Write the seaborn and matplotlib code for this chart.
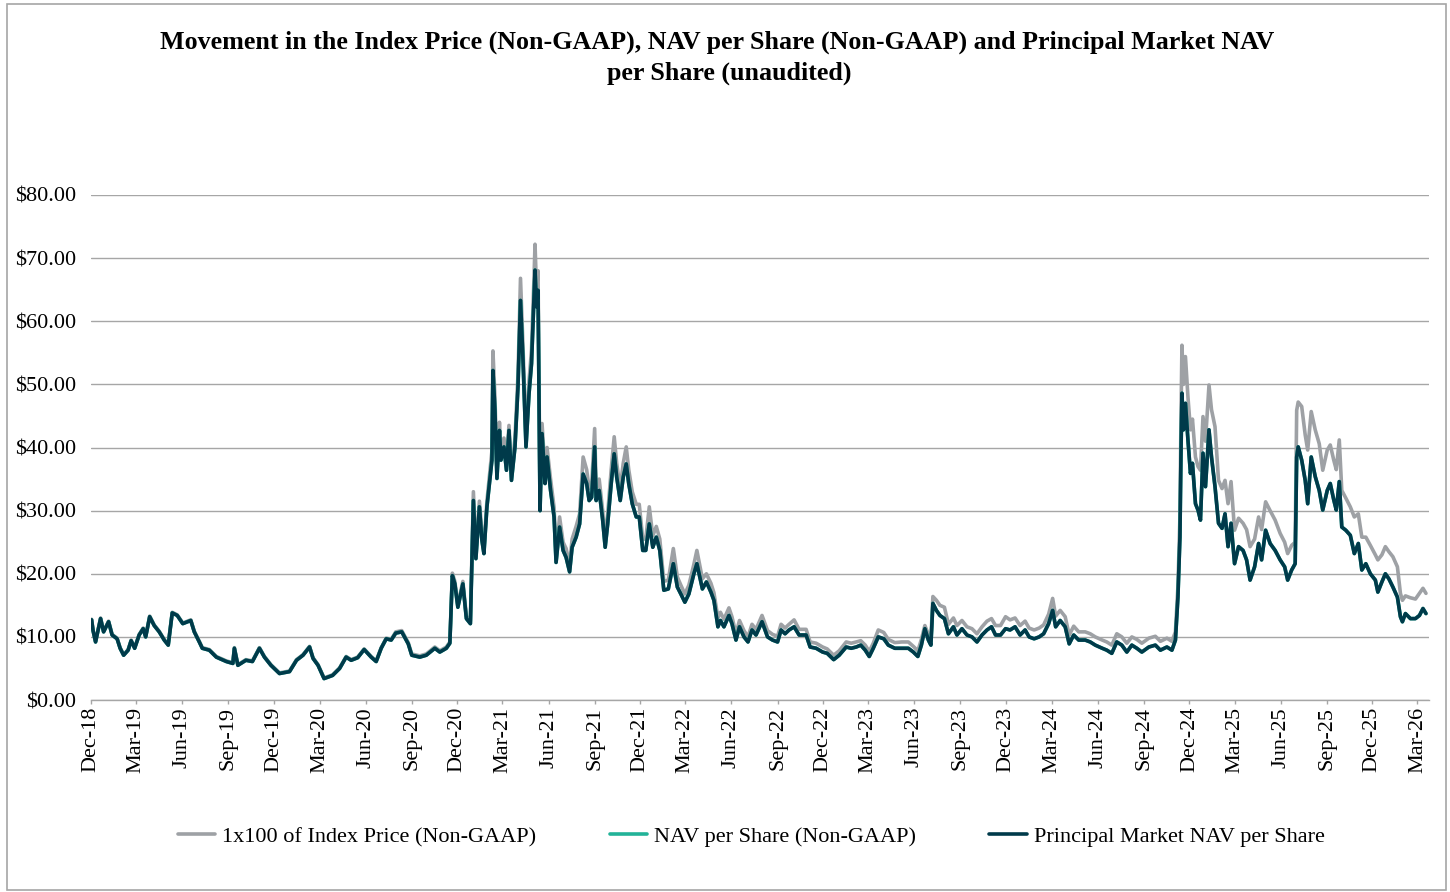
import pandas as pd
import matplotlib
matplotlib.use("Agg")
import matplotlib.pyplot as plt
import matplotlib.dates as mdates
from matplotlib.patches import Rectangle
from matplotlib.ticker import MultipleLocator, FuncFormatter
import seaborn as sns

# values
dates = [
    "2018-12-02", "2018-12-05", "2018-12-10", "2018-12-20", "2018-12-26",
    "2019-01-05", "2019-01-12", "2019-01-22", "2019-01-28", "2019-02-04",
    "2019-02-13", "2019-02-19", "2019-02-26", "2019-03-07", "2019-03-15",
    "2019-03-20", "2019-03-28", "2019-04-06", "2019-04-16", "2019-04-26",
    "2019-05-04", "2019-05-12", "2019-05-22", "2019-06-02", "2019-06-18",
    "2019-06-25", "2019-07-05", "2019-07-11", "2019-07-25", "2019-08-08",
    "2019-08-28", "2019-09-10", "2019-09-13", "2019-09-20", "2019-10-06",
    "2019-10-19", "2019-11-02", "2019-11-12", "2019-11-25", "2019-12-12",
    "2020-01-01", "2020-01-15", "2020-01-28", "2020-02-10", "2020-02-17",
    "2020-02-27", "2020-03-10", "2020-03-27", "2020-04-10", "2020-04-23",
    "2020-05-03", "2020-05-16", "2020-05-29", "2020-06-12", "2020-06-22",
    "2020-07-02", "2020-07-12", "2020-07-22", "2020-07-31", "2020-08-12",
    "2020-08-25", "2020-09-01", "2020-09-17", "2020-09-30", "2020-10-17",
    "2020-10-27", "2020-11-09", "2020-11-16", "2020-11-21", "2020-11-26",
    "2020-12-02", "2020-12-12", "2020-12-19", "2020-12-27",
    "2021-01-02", "2021-01-07", "2021-01-14", "2021-01-19", "2021-01-23",
    "2021-01-29", "2021-02-03", "2021-02-08", "2021-02-10", "2021-02-14",
    "2021-02-18", "2021-02-23", "2021-02-26", "2021-03-04", "2021-03-09",
    "2021-03-14", "2021-03-19", "2021-03-26", "2021-04-01", "2021-04-06",
    "2021-04-11", "2021-04-17", "2021-04-23", "2021-04-28", "2021-05-03",
    "2021-05-05", "2021-05-08", "2021-05-11", "2021-05-15", "2021-05-19",
    "2021-05-25", "2021-05-29", "2021-06-05", "2021-06-12", "2021-06-16",
    "2021-06-23", "2021-06-30", "2021-07-06", "2021-07-13", "2021-07-18",
    "2021-07-26", "2021-08-02", "2021-08-09", "2021-08-16", "2021-08-21",
    "2021-08-26", "2021-09-01", "2021-09-04", "2021-09-10", "2021-09-17",
    "2021-09-22", "2021-09-27", "2021-10-04", "2021-10-10", "2021-10-15",
    "2021-10-22", "2021-10-28", "2021-11-03", "2021-11-08", "2021-11-15",
    "2021-11-23", "2021-11-29", "2021-12-06", "2021-12-12", "2021-12-19",
    "2021-12-26", "2022-01-02", "2022-01-09", "2022-01-17", "2022-01-26",
    "2022-02-05", "2022-02-13", "2022-02-20", "2022-02-28", "2022-03-08",
    "2022-03-18", "2022-03-24", "2022-04-04", "2022-04-12", "2022-04-21",
    "2022-04-27", "2022-05-05", "2022-05-10", "2022-05-17", "2022-05-27",
    "2022-06-02", "2022-06-10", "2022-06-17", "2022-06-26", "2022-07-04",
    "2022-07-12", "2022-07-20", "2022-08-01", "2022-08-12", "2022-08-22",
    "2022-09-01", "2022-09-08", "2022-09-16", "2022-09-24", "2022-10-04",
    "2022-10-14", "2022-10-28", "2022-11-05", "2022-11-17", "2022-11-30",
    "2022-12-09", "2022-12-22", "2023-01-02", "2023-01-16", "2023-01-26",
    "2023-02-05", "2023-02-14", "2023-02-23", "2023-03-03", "2023-03-11",
    "2023-03-21", "2023-04-01", "2023-04-10", "2023-04-23", "2023-05-07",
    "2023-05-20", "2023-05-30", "2023-06-08", "2023-06-15", "2023-06-22",
    "2023-06-29", "2023-07-04", "2023-07-08", "2023-07-15", "2023-07-22",
    "2023-07-31", "2023-08-08", "2023-08-18", "2023-08-25", "2023-09-04",
    "2023-09-14", "2023-09-24", "2023-10-04", "2023-10-14", "2023-10-24",
    "2023-11-02", "2023-11-10", "2023-11-20", "2023-11-30", "2023-12-09",
    "2023-12-19", "2023-12-29", "2024-01-08", "2024-01-16", "2024-01-26",
    "2024-02-05", "2024-02-14", "2024-02-24", "2024-03-03", "2024-03-09",
    "2024-03-18", "2024-03-28", "2024-04-05", "2024-04-14", "2024-04-24",
    "2024-05-07", "2024-05-17", "2024-05-27", "2024-06-10", "2024-06-19",
    "2024-06-29", "2024-07-09", "2024-07-19", "2024-07-29", "2024-08-08",
    "2024-08-18", "2024-08-28", "2024-09-11", "2024-09-24", "2024-10-04",
    "2024-10-17", "2024-10-27", "2024-11-03", "2024-11-08", "2024-11-12",
    "2024-11-14", "2024-11-16", "2024-11-19", "2024-11-23", "2024-11-28",
    "2024-12-03", "2024-12-07", "2024-12-13", "2024-12-18", "2024-12-23",
    "2024-12-28", "2025-01-02", "2025-01-09", "2025-01-14", "2025-01-21",
    "2025-01-28", "2025-02-04", "2025-02-10", "2025-02-16", "2025-02-22",
    "2025-03-01", "2025-03-09", "2025-03-18", "2025-03-25", "2025-04-01",
    "2025-04-10", "2025-04-18", "2025-04-24", "2025-05-02", "2025-05-11",
    "2025-05-21", "2025-05-31", "2025-06-09", "2025-06-15", "2025-06-23",
    "2025-06-30", "2025-07-03", "2025-07-06", "2025-07-13", "2025-07-20",
    "2025-07-25", "2025-08-01", "2025-08-09", "2025-08-17", "2025-08-24",
    "2025-09-02", "2025-09-08", "2025-09-15", "2025-09-20", "2025-09-26",
    "2025-10-01", "2025-10-09", "2025-10-18", "2025-10-26", "2025-11-03",
    "2025-11-10", "2025-11-18", "2025-11-27", "2025-12-07", "2025-12-12",
    "2025-12-20", "2025-12-27", "2026-01-03", "2026-01-11", "2026-01-20",
    "2026-01-26", "2026-01-30", "2026-02-05", "2026-02-15", "2026-02-25",
    "2026-03-05", "2026-03-12", "2026-03-18",
]

principal_nav = [
    12.7, 11.0, 9.2, 12.9, 10.8,
    12.4, 10.3, 9.7, 8.2, 7.1,
    7.9, 9.4, 8.2, 10.3, 11.3,
    10.0, 13.2, 11.8, 10.8, 9.5,
    8.7, 13.8, 13.4, 12.1, 12.6,
    10.8, 9.2, 8.2, 7.9, 6.8,
    6.1, 5.8, 8.2, 5.5, 6.3,
    6.1, 8.2, 6.8, 5.5, 4.2,
    4.5, 6.3, 7.1, 8.4, 6.6,
    5.5, 3.4, 3.9, 5.0, 6.8,
    6.3, 6.7, 8.0, 6.8, 6.1,
    8.2, 9.7, 9.5, 10.6, 10.8,
    8.9, 7.1, 6.8, 7.1, 8.2,
    7.6, 8.2, 9.0, 19.7, 18.4,
    14.7, 18.4, 12.9, 12.1,
    31.6, 22.4, 30.6, 25.3, 23.2,
    30.6, 34.3, 38.0, 52.2, 45.9,
    35.1, 42.7, 38.0, 40.1, 36.4,
    42.7, 34.8, 40.1, 49.6, 63.3,
    53.8, 40.1, 48.5, 53.3, 63.8,
    68.1, 62.3, 64.9, 30.0, 42.2,
    34.3, 38.5, 33.2, 29.0, 21.8,
    27.4, 23.7, 22.6, 20.3, 24.2,
    25.8, 27.9, 35.8, 34.3, 31.6,
    32.1, 40.1, 31.6, 33.2, 28.5,
    24.2, 27.9, 34.3, 39.0, 35.3,
    31.6, 35.3, 37.4, 34.3, 31.1,
    29.0, 29.0, 23.7, 23.7, 27.9,
    24.2, 25.8, 23.7, 17.4, 17.6,
    21.6, 17.9, 16.8, 15.5, 16.8,
    20.0, 21.6, 17.6, 18.7, 17.1,
    15.8, 11.6, 12.6, 11.6, 13.4,
    12.1, 9.5, 11.6, 10.0, 9.2,
    11.1, 10.3, 12.4, 10.0, 9.5,
    9.2, 11.1, 10.5, 11.1, 11.6,
    10.3, 10.3, 8.4, 8.2, 7.6,
    7.4, 6.4, 7.1, 8.4, 8.2,
    8.4, 8.7, 7.9, 6.9, 8.2,
    10.0, 9.7, 8.7, 8.2, 8.2,
    8.2, 7.6, 6.9, 8.7, 11.3,
    9.5, 8.7, 15.3, 14.2, 13.4,
    12.9, 10.5, 11.6, 10.3, 11.3,
    10.3, 10.0, 9.2, 10.3, 11.1,
    11.6, 10.3, 10.3, 11.3, 11.1,
    11.6, 10.3, 11.1, 10.0, 9.7,
    10.0, 10.5, 12.1, 14.2, 11.6,
    12.6, 11.6, 8.9, 10.3, 9.5,
    9.5, 9.2, 8.7, 8.2, 7.9,
    7.4, 9.2, 8.7, 7.6, 8.7,
    8.2, 7.6, 8.4, 8.7, 7.9,
    8.4, 7.9, 9.5, 16.3, 25.8,
    38.5, 48.6, 42.8, 47.0, 41.2,
    35.9, 37.5, 31.1, 30.1, 28.5,
    39.1, 33.8, 42.8, 38.5, 33.8,
    28.0, 27.2, 29.5, 24.3, 28.0,
    21.6, 24.3, 23.7, 22.2, 19.0,
    21.1, 24.8, 22.2, 26.9, 24.8,
    23.7, 22.2, 21.1, 19.0, 20.6,
    21.6, 38.5, 40.1, 38.0, 34.8,
    31.1, 38.5, 35.4, 33.2, 30.1,
    33.2, 34.3, 31.7, 30.1, 34.6,
    27.4, 26.9, 26.1, 23.2, 24.8,
    20.6, 21.6, 20.0, 19.0, 17.1,
    18.7, 20.0, 19.2, 17.9, 16.3,
    13.2, 12.4, 13.7, 12.9, 12.9,
    13.4, 14.5, 13.7,
]

# NAV per Share sits right under the Principal Market NAV line
nav_per_share = list(principal_nav)

index_price = [
    12.8, 11.1, 9.3, 13.0, 10.9,
    12.5, 10.4, 9.8, 8.3, 7.2,
    8.0, 9.5, 8.3, 10.4, 11.4,
    10.1, 13.3, 11.9, 10.9, 9.6,
    8.8, 13.9, 13.5, 12.2, 12.7,
    10.9, 9.3, 8.3, 8.0, 6.9,
    6.2, 5.9, 8.3, 5.6, 6.4,
    6.2, 8.3, 6.9, 5.6, 4.3,
    4.6, 6.4, 7.2, 8.5, 6.7,
    5.6, 3.5, 4.0, 5.1, 6.9,
    6.4, 6.8, 8.1, 6.9, 6.2,
    8.3, 9.8, 9.6, 10.8, 11.0,
    9.1, 7.3, 7.0, 7.3, 8.4,
    7.8, 8.4, 9.2, 20.1, 18.8,
    15.1, 18.8, 13.3, 12.5,
    33.0, 23.5, 31.5, 26.5, 24.0,
    31.5, 35.5, 39.5, 55.3, 48.0,
    36.5, 44.0, 39.5, 41.5, 37.5,
    43.5, 36.0, 41.5, 51.5, 66.8,
    56.0, 41.5, 50.5, 55.5, 67.0,
    72.2, 65.0, 68.0, 31.5, 43.8,
    36.0, 40.0, 35.0, 30.5, 23.0,
    29.0, 25.0, 24.0, 21.5, 25.5,
    27.5, 29.5, 38.5, 36.5, 33.5,
    34.0, 43.0, 33.5, 35.0, 30.0,
    25.5, 29.5, 36.5, 41.7, 37.5,
    33.5, 37.5, 40.1, 36.5, 33.0,
    31.0, 31.0, 25.5, 25.5, 30.6,
    26.0, 27.5, 25.5, 18.8, 19.0,
    24.0, 19.5, 18.2, 16.8, 18.2,
    21.5, 23.7, 19.2, 20.0, 18.5,
    17.0, 13.0, 13.9, 12.8, 14.6,
    13.2, 10.5, 12.6, 11.0, 10.0,
    12.0, 11.2, 13.4, 11.0, 10.4,
    10.1, 12.0, 11.4, 12.0, 12.7,
    11.2, 11.2, 9.2, 9.0, 8.4,
    8.1, 7.1, 7.8, 9.2, 9.0,
    9.2, 9.4, 8.7, 7.7, 9.0,
    11.1, 10.7, 9.6, 9.1, 9.2,
    9.2, 8.5, 7.8, 9.6, 11.8,
    10.4, 9.6, 16.4, 15.8, 15.0,
    14.7, 12.0, 13.0, 11.8, 12.6,
    11.6, 11.3, 10.5, 11.6, 12.5,
    12.9, 11.8, 11.8, 13.2, 12.7,
    13.0, 11.8, 12.5, 11.4, 11.1,
    11.4, 11.9, 13.6, 16.1, 13.3,
    14.2, 13.2, 10.3, 11.7, 10.8,
    10.8, 10.5, 10.0, 9.5, 9.2,
    8.7, 10.5, 10.0, 9.0, 10.0,
    9.6, 9.0, 9.8, 10.1, 9.3,
    9.8, 9.3, 10.8, 18.0, 29.0,
    44.0, 56.2, 50.0, 54.4, 48.0,
    42.8, 44.5, 38.5, 37.0, 36.4,
    44.9, 41.0, 49.9, 46.0, 43.3,
    34.8, 33.5, 34.8, 31.1, 34.6,
    26.9, 28.8, 28.0, 27.0, 24.3,
    25.5, 29.0, 27.0, 31.4, 30.0,
    28.5, 26.4, 25.0, 23.2, 24.5,
    25.0, 45.9, 47.2, 46.5, 42.0,
    39.6, 45.7, 42.8, 40.6, 36.4,
    39.6, 40.4, 38.0, 36.5, 41.2,
    33.2, 32.0, 30.6, 29.0, 29.5,
    25.8, 25.8, 24.5, 23.0, 22.2,
    23.0, 24.3, 23.5, 22.7, 21.1,
    16.9, 15.8, 16.5, 16.2, 16.0,
    16.9, 17.7, 16.9,
]

series_labels = [
    "1x100 of Index Price (Non-GAAP)",
    "NAV per Share (Non-GAAP)",
    "Principal Market NAV per Share",
]
series_colors = ["#9ea1a5", "#22b398", "#003a4a"]

title_lines = [
    "Movement in the Index Price (Non-GAAP), NAV per Share (Non-GAAP) and Principal Market NAV",
    "per Share (unaudited)",
]

df = pd.DataFrame({
    "date": pd.to_datetime(dates),
    series_labels[0]: index_price,
    series_labels[1]: nav_per_share,
    series_labels[2]: principal_nav,
})

sns.set_style("white")
plt.rcParams["font.family"] = ["Liberation Serif", "DejaVu Serif"]
plt.rcParams["text.color"] = "black"

fig = plt.figure(figsize=(14.5, 8.92), dpi=100)
ax = fig.add_axes([0.0628, 0.2152, 0.9227, 0.5662])

for label, color in zip(series_labels, series_colors):
    sns.lineplot(data=df, x="date", y=label, ax=ax, color=color,
                 linewidth=2.6, label=label, estimator=None)

ax.set_ylim(0, 80)
ax.set_xlim(pd.Timestamp("2018-12-01"), pd.Timestamp("2026-03-24"))
ax.yaxis.set_major_locator(MultipleLocator(10))
ax.yaxis.set_major_formatter(FuncFormatter(lambda v, p: f"${v:.2f}"))
ax.xaxis.set_major_locator(mdates.MonthLocator(bymonth=[3, 6, 9, 12], bymonthday=1))
ax.xaxis.set_major_formatter(mdates.DateFormatter("%b-%y"))

ax.grid(axis="y", color="#a6a6a6", linewidth=1.0)
ax.grid(axis="x", visible=False)
ax.set_axisbelow(True)
for side in ["top", "right", "left"]:
    ax.spines[side].set_visible(False)
ax.spines["bottom"].set_color("#a6a6a6")
ax.spines["bottom"].set_linewidth(1.0)

ax.tick_params(axis="y", length=0, pad=11, labelsize=16, labelcolor="black")
ax.tick_params(axis="x", direction="out", length=3, width=1, color="#a6a6a6",
               pad=2, labelsize=16, labelcolor="black", labelrotation=90, bottom=True)
ax.set_xlabel("")
ax.set_ylabel("")

ax.legend_.remove()
handles, labels = ax.get_legend_handles_labels()
fig.legend(handles, labels, loc="center", bbox_to_anchor=(0.518, 0.0617), ncol=3,
           frameon=False, fontsize=16, handlelength=1.7, handletextpad=0.3,
           columnspacing=3.3, labelcolor="black")

fig.text(0.4945, 0.953, title_lines[0], ha="center", va="center", fontsize=18.7,
         fontweight="bold", color="black")
fig.text(0.503, 0.918, title_lines[1], ha="center", va="center", fontsize=18.7,
         fontweight="bold", color="black")

# thin frame around the whole chart area
fig.patches.append(Rectangle((0.0048, 0.0025), 0.9924, 0.9935, transform=fig.transFigure,
                             fill=False, edgecolor="#a6a6a6", linewidth=1.2))

fig.savefig("out.png", dpi=100)
